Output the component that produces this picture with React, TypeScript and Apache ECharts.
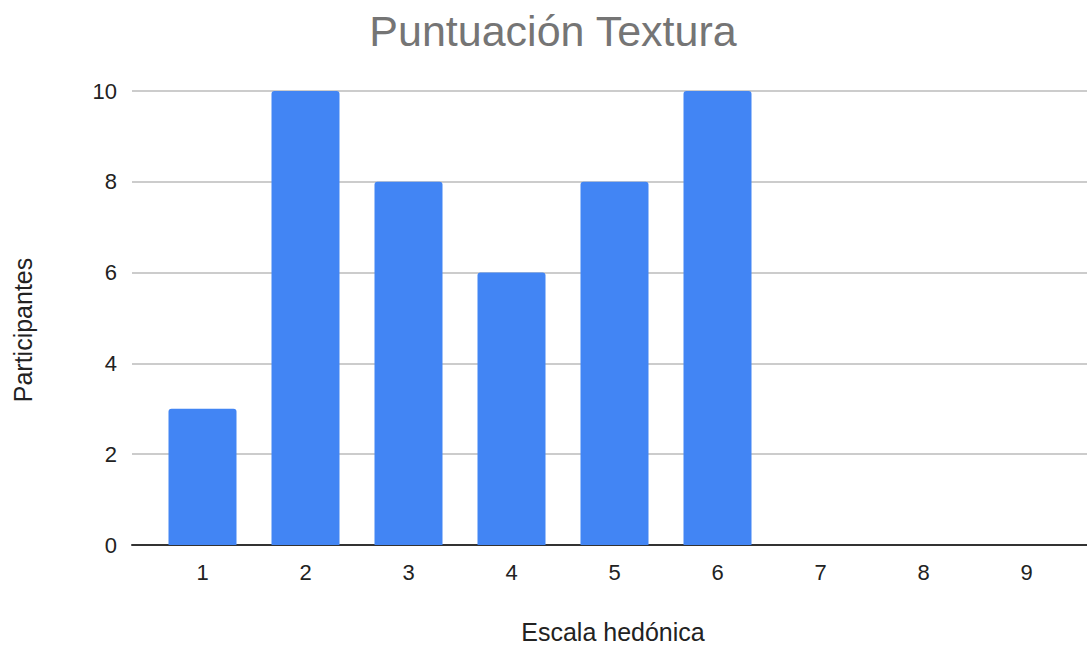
import React, { useEffect, useRef } from "react";
import * as echarts from "echarts";

const title = "Puntuación Textura";
const xTitle = "Escala hedónica";
const yTitle = "Participantes";
const categories = [1, 2, 3, 4, 5, 6, 7, 8, 9];
const participants = [3, 10, 8, 6, 8, 10, 0, 0, 0];
const yTicks = { min: 0, max: 10, interval: 2 };

export default function App() {
  const ref = useRef<HTMLDivElement>(null);
  useEffect(() => {
    if (!ref.current) return;
    const chart = echarts.init(ref.current, undefined, { renderer: "svg" });
    const font = "'Liberation Sans', Arial, sans-serif";
    chart.setOption({
      animation: false,
      graphic: [
        {
          type: "text",
          x: 553,
          y: 31,
          style: {
            text: title,
            fill: "#757575",
            font: `43px ${font}`,
            align: "center",
            verticalAlign: "middle",
          },
        },
        {
          type: "text",
          x: 613,
          y: 632,
          style: {
            text: xTitle,
            fill: "#222",
            font: `25px ${font}`,
            align: "center",
            verticalAlign: "middle",
          },
        },
        {
          type: "text",
          x: 23,
          y: 330,
          rotation: Math.PI / 2,
          style: {
            text: yTitle,
            fill: "#222",
            font: `25px ${font}`,
            align: "center",
            verticalAlign: "middle",
          },
        },
      ],
      grid: { left: 132, right: 0, top: 91, bottom: 101, containLabel: false },
      xAxis: {
        type: "value",
        min: 1 - 70.5 / 103,
        max: 1 + 884.5 / 103,
        splitLine: { show: false },
        axisTick: { show: false },
        axisLine: { show: true, lineStyle: { color: "#333", width: 2 } },
        axisLabel: {
          customValues: categories,
          formatter: (v: number) => String(Math.round(v)),
          fontSize: 22,
          color: "#222",
          fontFamily: font,
          margin: 16,
        },
      },
      yAxis: {
        type: "value",
        min: yTicks.min,
        max: yTicks.max,
        interval: yTicks.interval,
        axisLine: { show: false },
        axisTick: { show: false },
        splitLine: { lineStyle: { color: "#cccccc", width: 2 } },
        axisLabel: { fontSize: 22, color: "#222", fontFamily: font, margin: 15 },
      },
      series: [
        {
          type: "bar",
          data: categories.map((c, i) => [c, participants[i]]),
          barWidth: 68,
          itemStyle: { color: "#4285F4", borderRadius: [3, 3, 0, 0] },
        },
      ],
    });
    return () => chart.dispose();
  }, []);
  return (
    <div
      ref={ref}
      style={{ position: "absolute", left: 0, top: 0, width: 1087, height: 646 }}
    />
  );
}
